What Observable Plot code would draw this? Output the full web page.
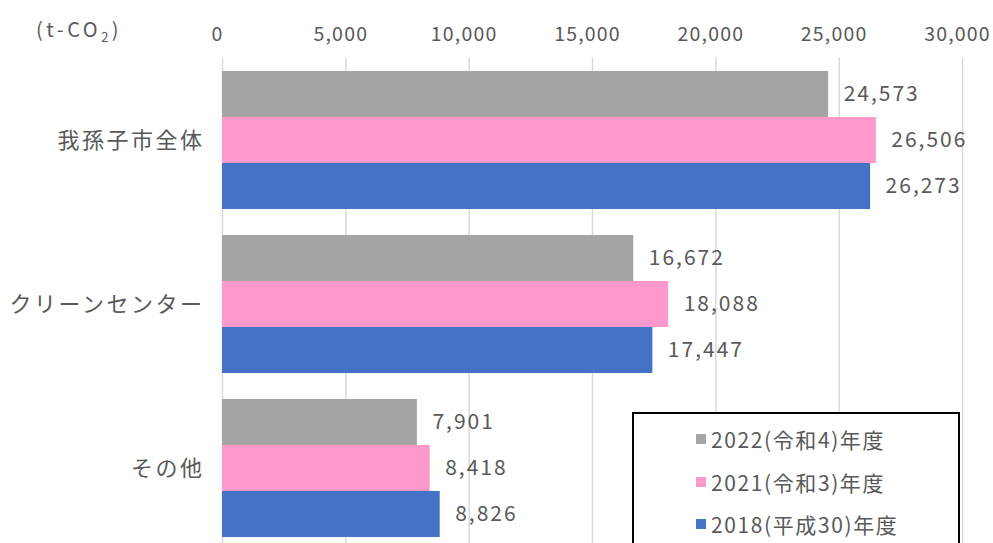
<!DOCTYPE html>
<html>
<head>
<meta charset="utf-8">
<script src="https://cdn.jsdelivr.net/npm/d3@7"></script>
<script src="https://cdn.jsdelivr.net/npm/@observablehq/plot@0.6"></script>
<style>
  html, body { margin: 0; padding: 0; background: #fff; overflow: hidden; }
  #wrap { position: relative; width: 993px; height: 543px; overflow: hidden; font-family: 'Noto Sans CJK JP', sans-serif; color: #595959; }
  #unit { position: absolute; left: 36px; top: 14px; font-size: 20px; letter-spacing: 3.5px; }
  #unit sub { font-size: 13px; }
  #legend { position: absolute; left: 632px; top: 412px; width: 328px; height: 160px; border: 2px solid #000; background: #fff; box-sizing: border-box; }
  .item { position: absolute; left: 62px; font-size: 21px; letter-spacing: 1.6px; white-space: nowrap; display: flex; align-items: center; }
  .sw { width: 10px; height: 10px; margin-right: 5px; display: inline-block; }
</style>
</head>
<body>
<div id="wrap">
  <div id="chart"></div>
  <div id="unit">(t-CO<sub>2</sub>)</div>
  <div id="legend"></div>
</div>
<script>
const categories = ["我孫子市全体", "クリーンセンター", "その他"];
const series = ["2022(令和4)年度", "2021(令和3)年度", "2018(平成30)年度"];
const colors = ["#A5A5A5", "#FF99CC", "#4472C4"];
const values2022 = [24573, 16672, 7901];
const values2021 = [26506, 18088, 8418];
const values2018 = [26273, 17447, 8826];
const xTicks = [0, 5000, 10000, 15000, 20000, 25000, 30000];

const seriesValues = [values2022, values2021, values2018];
const rows = [];
categories.forEach((c, i) => {
  series.forEach((s, j) => {
    rows.push({category: c, series: s, value: seriesValues[j][i]});
  });
});

const fmt = d3.format(",");

const chart = Plot.plot({
  width: 993,
  height: 552,
  marginTop: 57,
  marginBottom: 0,
  marginLeft: 222,
  marginRight: 31,
  style: {fontFamily: "'Noto Sans CJK JP', sans-serif", color: "#595959", background: "transparent"},
  facet: {data: rows, y: "category"},
  fy: {domain: categories, axis: "left", label: null, paddingInner: 0.145, paddingOuter: 0.0727, tickSize: 0, tickPadding: 18},
  y: {domain: series, axis: null, padding: 0},
  x: {domain: [0, 30000], axis: "top", ticks: xTicks, tickFormat: fmt, tickSize: 0, tickPadding: 30, label: null},
  color: {domain: series, range: colors},
  marks: [
    Plot.ruleX(xTicks, {stroke: "#D9D9D9", strokeWidth: 1.5, insetTop: -12.5, insetBottom: -12.5}),
    Plot.barX(rows, {x: "value", y: "series", fill: "series", inset: 0}),
    Plot.text(rows, {x: "value", y: "series", text: d => fmt(d.value), dx: 15, textAnchor: "start", fill: "#595959", fontSize: 21})
  ]
});

document.getElementById("chart").appendChild(chart);

chart.querySelectorAll("g[aria-label='fy-axis'] text, g[aria-label='fy-axis tick label'] text").forEach(t => {
  t.setAttribute("font-size", 22);
  t.style.letterSpacing = "2.5px";
});
chart.querySelectorAll("g[aria-label='x-axis'] text, g[aria-label='x-axis tick label'] text").forEach(t => {
  t.setAttribute("font-size", 19.5);
  t.setAttribute("dx", -5);
  t.style.letterSpacing = "1.2px";
});
chart.querySelectorAll("g[aria-label='text'] text").forEach(t => {
  t.style.letterSpacing = "2px";
});

const legend = document.getElementById("legend");
const rowTops = [10, 53, 95];
series.forEach((s, i) => {
  const d = document.createElement("div");
  d.className = "item";
  d.style.top = rowTops[i] + "px";
  const sw = document.createElement("span");
  sw.className = "sw";
  sw.style.background = colors[i];
  d.appendChild(sw);
  d.appendChild(document.createTextNode(s));
  legend.appendChild(d);
});
</script>
</body>
</html>
